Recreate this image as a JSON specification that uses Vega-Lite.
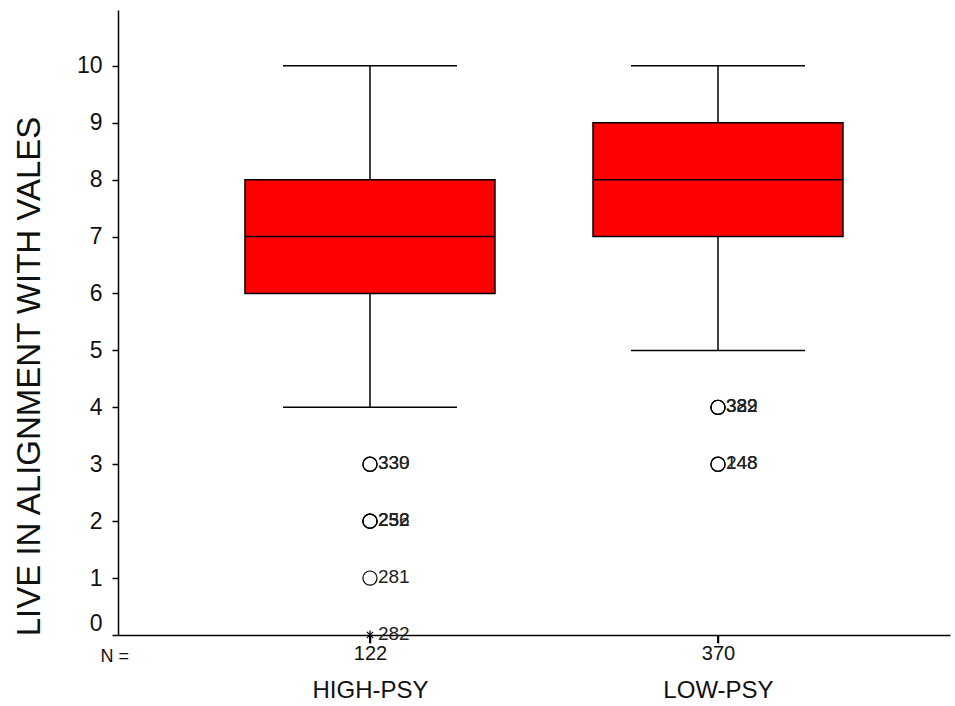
{
  "$schema": "https://vega.github.io/schema/vega-lite/v6.json",
  "width": 832,
  "height": 625,
  "autosize": {"type": "none"},
  "padding": {"left": 118, "top": 10, "right": 5, "bottom": 71},
  "background": "white",
  "config": {
    "view": {"stroke": null},
    "font": "Liberation Sans",
    "axis": {"grid": false, "domainColor": "black", "tickColor": "black", "labelColor": "#111", "titleColor": "#111", "domainWidth": 1.5, "tickWidth": 1.5}
  },
  "datasets": {
    "boxes": [
      {"group": "HIGH-PSY", "idx": 1, "n": 122, "lower": 4, "q1": 6, "median": 7, "q3": 8, "upper": 10},
      {"group": "LOW-PSY", "idx": 2, "n": 370, "lower": 5, "q1": 7, "median": 8, "q3": 9, "upper": 10}
    ],
    "outliers": [
      {"idx": 1, "value": 3, "label": "330", "kind": "outlier"},
      {"idx": 1, "value": 3, "label": "339", "kind": "outlier"},
      {"idx": 1, "value": 2, "label": "232", "kind": "outlier"},
      {"idx": 1, "value": 2, "label": "256", "kind": "outlier"},
      {"idx": 1, "value": 2, "label": "252", "kind": "outlier"},
      {"idx": 1, "value": 1, "label": "281", "kind": "outlier"},
      {"idx": 1, "value": 0, "label": "282", "kind": "extreme"},
      {"idx": 2, "value": 4, "label": "332", "kind": "outlier"},
      {"idx": 2, "value": 4, "label": "389", "kind": "outlier"},
      {"idx": 2, "value": 4, "label": "322", "kind": "outlier"},
      {"idx": 2, "value": 3, "label": "248", "kind": "outlier"},
      {"idx": 2, "value": 3, "label": "148", "kind": "outlier"}
    ]
  },
  "layer": [
    {
      "data": {"name": "boxes"},
      "mark": {"type": "rule", "color": "black", "strokeWidth": 1.5},
      "encoding": {
        "x": {"field": "idx", "type": "quantitative", "scale": {"domain": [0.2759, 2.6667], "nice": false, "zero": false, "padding": 0},
          "axis": {"orient": "bottom", "values": [1, 2], "labelExpr": "datum.value == 1 ? '122' : '370'", "title": "N =", "titleX": -18, "titleY": 21, "titleAlign": "left", "titleBaseline": "middle", "titleFontSize": 18, "titleFontWeight": "normal", "labelFontSize": 20, "ticks": true, "tickSize": 8, "labelPadding": 0, "domain": true}},
        "y": {"field": "lower", "type": "quantitative", "scale": {"domain": [0, 10.98], "nice": false, "zero": true},
          "axis": {"orient": "left", "title": "LIVE IN ALIGNMENT WITH VALES", "values": [0, 1, 2, 3, 4, 5, 6, 7, 8, 9, 10], "ticks": true, "tickSize": 6, "labelFontSize": 23, "labelPadding": 10, "labelFlush": true, "titleFontSize": 33, "titleFontWeight": "normal", "titleX": -89, "titleY": 366, "titleBaseline": "middle", "domain": true}},
        "y2": {"field": "q1"}
      }
    },
    {
      "data": {"name": "boxes"},
      "mark": {"type": "rule", "color": "black", "strokeWidth": 1.5},
      "encoding": {
        "x": {"field": "idx", "type": "quantitative", "axis": null},
        "y": {"field": "q3", "type": "quantitative", "axis": null},
        "y2": {"field": "upper"}
      }
    },
    {
      "data": {"name": "boxes"},
      "mark": {"type": "tick", "orient": "vertical", "size": 8, "thickness": 2, "color": "black", "opacity": 1, "yOffset": 4, "clip": false},
      "encoding": {
        "x": {"field": "idx", "type": "quantitative", "axis": null},
        "y": {"datum": 0, "type": "quantitative", "axis": null}
      }
    },
    {
      "data": {"name": "boxes"},
      "mark": {"type": "tick", "orient": "horizontal", "size": 174, "thickness": 1.5, "color": "black", "opacity": 1},
      "encoding": {
        "x": {"field": "idx", "type": "quantitative", "axis": null},
        "y": {"field": "lower", "type": "quantitative", "axis": null}
      }
    },
    {
      "data": {"name": "boxes"},
      "mark": {"type": "tick", "orient": "horizontal", "size": 174, "thickness": 1.5, "color": "black", "opacity": 1},
      "encoding": {
        "x": {"field": "idx", "type": "quantitative", "axis": null},
        "y": {"field": "upper", "type": "quantitative", "axis": null}
      }
    },
    {
      "data": {"name": "boxes"},
      "mark": {"type": "bar", "size": 250, "fill": "#FF0000", "stroke": "black", "strokeWidth": 1.5, "opacity": 1},
      "encoding": {
        "x": {"field": "idx", "type": "quantitative",
          "axis": {"orient": "bottom", "values": [1, 2], "labelExpr": "datum.value == 1 ? 'HIGH-PSY' : 'LOW-PSY'", "domain": false, "ticks": false, "tickSize": 0, "labelPadding": 0, "offset": 43, "labelFontSize": 24, "title": null}},
        "y": {"field": "q1", "type": "quantitative", "axis": null},
        "y2": {"field": "q3"}
      }
    },
    {
      "data": {"name": "boxes"},
      "mark": {"type": "tick", "orient": "horizontal", "size": 250, "thickness": 1.5, "color": "black", "opacity": 1},
      "encoding": {
        "x": {"field": "idx", "type": "quantitative", "axis": null},
        "y": {"field": "median", "type": "quantitative", "axis": null}
      }
    },
    {
      "data": {"name": "outliers"},
      "transform": [{"filter": "datum.kind == 'outlier'"}],
      "mark": {"type": "point", "shape": "circle", "size": 200, "filled": false, "stroke": "black", "strokeWidth": 1.2, "opacity": 1},
      "encoding": {
        "x": {"field": "idx", "type": "quantitative", "axis": null},
        "y": {"field": "value", "type": "quantitative", "axis": null}
      }
    },
    {
      "data": {"name": "outliers"},
      "transform": [{"filter": "datum.kind == 'extreme'"}],
      "mark": {"type": "point", "shape": "M0,-1L0,1M-0.7,-0.7L0.7,0.7M-0.7,0.7L0.7,-0.7", "size": 80, "filled": false, "stroke": "black", "strokeWidth": 1.2, "opacity": 1},
      "encoding": {
        "x": {"field": "idx", "type": "quantitative", "axis": null},
        "y": {"field": "value", "type": "quantitative", "axis": null}
      }
    },
    {
      "data": {"name": "outliers"},
      "mark": {"type": "text", "align": "left", "baseline": "middle", "dx": 8, "dy": -1, "fontSize": 19, "color": "#222"},
      "encoding": {
        "x": {"field": "idx", "type": "quantitative", "axis": null},
        "y": {"field": "value", "type": "quantitative", "axis": null},
        "text": {"field": "label"}
      }
    }
  ],
  "resolve": {"axis": {"x": "independent", "y": "independent"}}
}
